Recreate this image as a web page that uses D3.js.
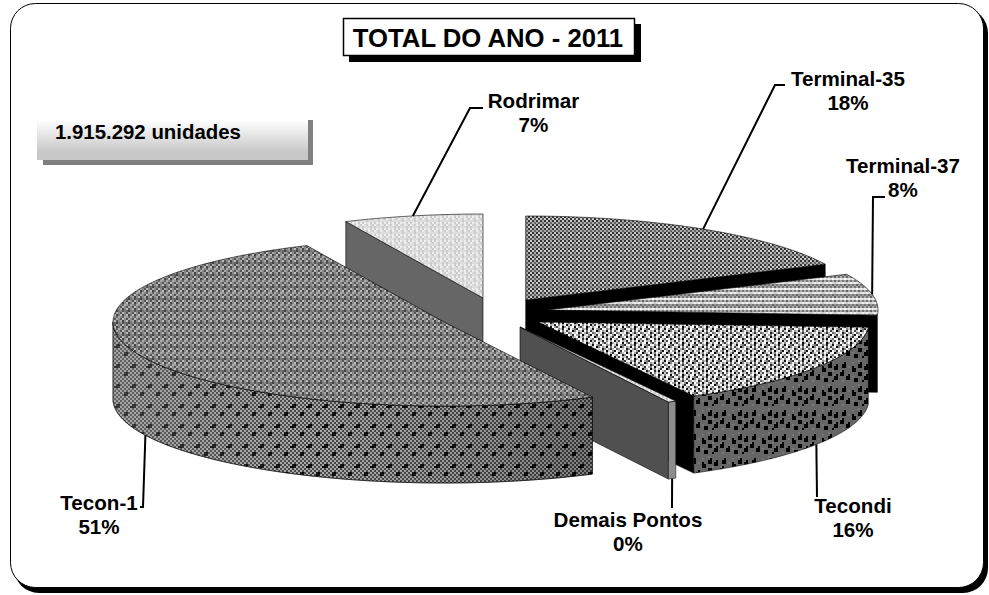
<!DOCTYPE html>
<html>
<head>
<meta charset="utf-8">
<script src="https://cdn.jsdelivr.net/npm/d3@7"></script>
<style>
  html, body { margin: 0; padding: 0; background: #fff; }
  text { font-family: "Liberation Sans", Arial, sans-serif; font-weight: bold; fill: #000; }
</style>
</head>
<body>
<div id="chart"></div>
<script>
// values, clockwise from 12 o'clock
var categories = ["Terminal-35", "Terminal-37", "Tecondi", "Demais Pontos", "Tecon-1", "Rodrimar"];
var shares = [18, 8, 16.2, 0.4, 50.6, 6.8];
var chartTitle = "TOTAL DO ANO - 2011";
var totalLabel = "1.915.292 unidades";

var width = 989;
var height = 595;
var rx = 331;
var ry = 84;
var depth = 77;

// centre of each exploded slice
var centres = {
  "Terminal-35": [525.7, 300],
  "Terminal-37": [547, 310],
  "Tecondi": [538, 322],
  "Demais Pontos": [520, 327],
  "Tecon-1": [444, 322],
  "Rodrimar": [483, 298]
};

// leader line after it leaves the rim, and the label's centre and first baseline
var labelLayout = {
  "Terminal-35": { elbow: [[775, 85], [785, 85]], x: 848, y: 86 },
  "Terminal-37": { elbow: [[873, 197], [885, 197]], x: 903, y: 173 },
  "Tecondi": { elbow: [[817, 497]], x: 853, y: 513 },
  "Demais Pontos": { elbow: [[672, 508]], x: 628, y: 527 },
  "Tecon-1": { elbow: [[143, 507], [140, 507]], x: 99, y: 510 },
  "Rodrimar": { elbow: [[470, 108], [483, 108]], x: 533.5, y: 108 }
};

var svg = d3.select("#chart").append("svg")
  .attr("width", width)
  .attr("height", height)
  .style("display", "block");

var defs = svg.append("defs");

// small grey bitmaps, one hex digit per cell (0 black .. f white)
function bitmap(id, cell, rows) {
  var p = defs.append("pattern")
    .attr("id", id)
    .attr("patternUnits", "userSpaceOnUse")
    .attr("width", rows[0].length * cell)
    .attr("height", rows.length * cell);
  rows.forEach(function(row, y) {
    row.split("").forEach(function(c, x) {
      var g = c + c;
      p.append("rect")
        .attr("x", x * cell)
        .attr("y", y * cell)
        .attr("width", cell)
        .attr("height", cell)
        .attr("fill", "#" + g + g + g)
        .attr("shape-rendering", "crispEdges");
    });
  });
}

bitmap("tecon-top", 2, [
  "5b85a8",
  "b48b47",
  "86a96a",
  "5b85a8",
  "a48b58",
  "857647"
]);
bitmap("tecon-side", 2, [
  "4a4a4a4a",
  "a4a4a4a4",
  "4a104a4a",
  "a001a4a4",
  "4a4a4a4a",
  "a4a4a4a4",
  "4a4a4a10",
  "a4a4a401",
  "4a4a4a4a",
  "a4a4a4a4"
]);
bitmap("rodrimar-top", 2, [
  "ecedec",
  "cedced",
  "dddcdd",
  "ecedec",
  "cedced",
  "dcdddc"
]);
bitmap("t35-top", 2, [
  "3c3a3c3a",
  "c3c5c3c5",
  "3c3a3c3a",
  "a5a6a5a6"
]);
bitmap("t37-top", 2, [
  "a7a6a7",
  "dedcde",
  "796979",
  "a7a6a7",
  "edfded"
]);
bitmap("tecondi-top", 2, [
  "f0c8fa3ef08c",
  "8fe3c0fb7fe2",
  "c2f8e9f1c4fa",
  "f94cf09e8ef1",
  "3ef8b2fc1fa7",
  "e9c1f7e4cf08",
  "f28ea3bf69ec",
  "a7f0ce81fb3f"
]);
bitmap("tecondi-side", 2, [
  "666666666766666",
  "660666766606666",
  "600666666006606",
  "600676066006006",
  "666666006666006",
  "706666006667666",
  "006666666006666",
  "006606666006706",
  "666006766666006",
  "666006600666006",
  "676666600660666",
  "666666666666666"
]);

var sideShade = defs.append("linearGradient")
  .attr("id", "side-shade")
  .attr("gradientUnits", "userSpaceOnUse")
  .attr("x1", 115).attr("x2", 590).attr("y1", 0).attr("y2", 0);
sideShade.append("stop").attr("offset", 0).attr("stop-color", "#999").attr("stop-opacity", 0.35);
sideShade.append("stop").attr("offset", 0.4).attr("stop-color", "#888").attr("stop-opacity", 0.05);
sideShade.append("stop").attr("offset", 1).attr("stop-color", "#000").attr("stop-opacity", 0.25);

var boxFade = defs.append("linearGradient")
  .attr("id", "box-fade")
  .attr("x1", 0).attr("x2", 0).attr("y1", 0).attr("y2", 1);
boxFade.append("stop").attr("offset", 0).attr("stop-color", "#fff");
boxFade.append("stop").attr("offset", 0.8).attr("stop-color", "#c8c8c8");

// frame
svg.append("rect").attr("x", 14).attr("y", 8).attr("width", 974).attr("height", 585)
  .attr("rx", 25).attr("fill", "#000");
svg.append("rect").attr("x", 10.5).attr("y", 3.5).attr("width", 973).attr("height", 584)
  .attr("rx", 25).attr("fill", "#fff").attr("stroke", "#000").attr("stroke-width", 1);

// pie
var pie = d3.pie().sort(null).value(function(d) { return d.share; });
var slices = pie(categories.map(function(c, i) { return { name: c, share: shares[i] }; }));
var byName = {};
slices.forEach(function(s) { byName[s.data.name] = s; });

function project(name, angle, drop) {
  var c = centres[name];
  return [c[0] + rx * Math.sin(angle), c[1] - ry * Math.cos(angle) + (drop || 0)];
}

function rim(name, a0, a1, drop) {
  var n = Math.max(2, Math.ceil(Math.abs(a1 - a0) * 60));
  return d3.range(n + 1).map(function(i) {
    return project(name, a0 + (a1 - a0) * i / n, drop);
  });
}

var line = d3.line();
var chart = svg.append("g");

function drawTop(name, fill) {
  var s = byName[name];
  var pts = [centres[name]].concat(rim(name, s.startAngle, s.endAngle));
  chart.append("path")
    .attr("d", line(pts) + "Z")
    .attr("fill", "url(#" + fill + ")")
    .attr("stroke", "#000")
    .attr("stroke-width", 0.6);
}

// the cut wall at one angle of a slice
function drawWall(name, angle, fill) {
  var c = centres[name];
  var p = project(name, angle);
  var pts = [c, p, [p[0], p[1] + depth], [c[0], c[1] + depth]];
  chart.append("path")
    .attr("d", line(pts) + "Z")
    .attr("fill", fill)
    .attr("stroke", "#000")
    .attr("stroke-width", 0.6);
}

// the outer wall between two angles
function drawSide(name, a0, a1, fill) {
  var pts = rim(name, a0, a1).concat(rim(name, a1, a0, depth));
  chart.append("path")
    .attr("d", line(pts) + "Z")
    .attr("fill", fill)
    .attr("stroke", "#000")
    .attr("stroke-width", 0.5);
}

var rodrimar = byName["Rodrimar"];
drawWall("Rodrimar", rodrimar.startAngle, "#666");
drawTop("Rodrimar", "rodrimar-top");

var t35 = byName["Terminal-35"];
drawWall("Terminal-35", t35.endAngle, "#000");
drawTop("Terminal-35", "t35-top");

var t37 = byName["Terminal-37"];
drawWall("Terminal-37", t37.endAngle, "#000");
drawTop("Terminal-37", "t37-top");

var tecondi = byName["Tecondi"];
drawWall("Tecondi", tecondi.endAngle, "#000");
drawSide("Tecondi", tecondi.startAngle, tecondi.endAngle, "url(#tecondi-side)");
drawTop("Tecondi", "tecondi-top");

var demais = byName["Demais Pontos"];
drawWall("Demais Pontos", demais.endAngle, "#505050");
drawSide("Demais Pontos", demais.startAngle, demais.endAngle, "#8c8c8c");
drawTop("Demais Pontos", "rodrimar-top");

var tecon = byName["Tecon-1"];
var teconSideEnd = 1.5 * Math.PI;
drawSide("Tecon-1", tecon.startAngle, teconSideEnd, "url(#tecon-side)");
drawSide("Tecon-1", tecon.startAngle, teconSideEnd, "url(#side-shade)");
drawTop("Tecon-1", "tecon-top");

// leader lines start on the rim at each slice's middle angle
var frontFacing = { "Tecondi": true, "Demais Pontos": true, "Tecon-1": true };
slices.forEach(function(s) {
  var name = s.data.name;
  var mid = (s.startAngle + s.endAngle) / 2;
  var start = project(name, mid, frontFacing[name] ? depth : 0);
  svg.append("path")
    .attr("d", line([start].concat(labelLayout[name].elbow)))
    .attr("fill", "none")
    .attr("stroke", "#000")
    .attr("stroke-width", 2);
});

// slice labels
var total = d3.sum(shares);
var labels = svg.selectAll(".slice-label")
  .data(slices)
  .enter().append("text")
  .attr("class", "slice-label")
  .attr("text-anchor", "middle")
  .style("font-size", "20.6px");

labels.append("tspan")
  .attr("x", function(d) { return labelLayout[d.data.name].x; })
  .attr("y", function(d) { return labelLayout[d.data.name].y; })
  .text(function(d) { return d.data.name; });

labels.append("tspan")
  .attr("x", function(d) { return labelLayout[d.data.name].x; })
  .attr("y", function(d) { return labelLayout[d.data.name].y + 24; })
  .text(function(d) { return Math.round(d.data.share / total * 100) + "%"; });

// title box
svg.append("rect").attr("x", 349).attr("y", 24).attr("width", 292).attr("height", 38).attr("fill", "#000");
svg.append("rect").attr("x", 343.5).attr("y", 18.5).attr("width", 291).attr("height", 37)
  .attr("fill", "#fff").attr("stroke", "#000").attr("stroke-width", 1.5);
svg.append("text")
  .attr("x", 488).attr("y", 47)
  .attr("text-anchor", "middle")
  .style("font-size", "25.7px")
  .text(chartTitle);

// total box
svg.append("rect").attr("x", 43).attr("y", 120).attr("width", 270).attr("height", 45).attr("fill", "#808080");
svg.append("rect").attr("x", 37).attr("y", 120).attr("width", 271).attr("height", 40).attr("fill", "url(#box-fade)");
svg.append("text")
  .attr("x", 55).attr("y", 139)
  .style("font-size", "20.4px")
  .text(totalLabel);
</script>
</body>
</html>
